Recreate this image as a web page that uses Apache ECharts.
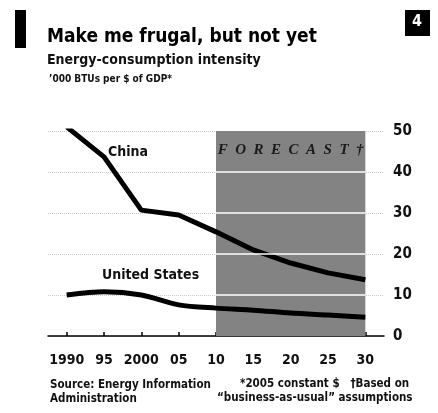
<!DOCTYPE html>
<html><head><meta charset="utf-8">
<script src="https://cdn.jsdelivr.net/npm/echarts@6/dist/echarts.min.js"></script>
<style>html,body{margin:0;padding:0;background:#fff}#c{width:438px;height:413px}</style>
</head><body><div id="c"></div>
<script>
var years = [1990, 1995, 2000, 2005, 2010, 2015, 2020, 2025, 2030];
var china = [51, 43.7, 30.7, 29.5, 25.4, 21, 17.8, 15.4, 13.7];
var unitedStates = [10, 10.8, 10, 7.6, 6.8, 6.3, 5.6, 5.1, 4.6];
var yTicks = [0, 10, 20, 30, 40, 50];
var xLabels = {1990:'1990',1995:'95',2000:'2000',2005:'05',2010:'10',2015:'15',2020:'20',2025:'25',2030:'30'};
var forecastStart = 2010, forecastEnd = 2030;

var F = "'Liberation Sans Narrow','DejaVu Sans Condensed',sans-serif";
var chart = echarts.init(document.getElementById('c'));
function pairs(v){ return years.map(function(y,i){return [y, v[i]];}); }
var gridLines = yTicks.filter(function(t){return t>0 && t<50;}).map(function(t){
  return [{coord:[forecastStart,t]},{coord:[forecastEnd,t]}];
});
chart.setOption({
  backgroundColor:'#fff',
  animation:false,
  grid:{left:48, right:54, top:131, bottom:77},
  xAxis:{type:'value', min:1987.5, max:2032.5,
    axisLine:{show:true, lineStyle:{color:'#000', width:1.5}},
    axisTick:{show:true, inside:true, length:4, customValues:years, lineStyle:{color:'#000', width:1.5}},
    axisLabel:{customValues:years, formatter:function(v){return xLabels[v]||'';}, color:'#111', fontFamily:F, fontWeight:'bold', fontSize:14, margin:17},
    splitLine:{show:false}},
  yAxis:{type:'value', position:'right', min:0, max:50, interval:10,
    axisLine:{show:false}, axisTick:{show:false},
    axisLabel:{color:'#111', fontFamily:F, fontWeight:'bold', fontSize:15, margin:9, verticalAlign:'middle'},
    splitLine:{show:true, lineStyle:{color:'#c8c8c8', type:'dotted', width:1}}},
  graphic:[
    {type:'rect', shape:{x:15,y:10,width:11,height:38}, style:{fill:'#000'}},
    {type:'rect', shape:{x:405,y:10,width:25,height:26}, style:{fill:'#000'}},
    {type:'text', left:412, top:14, style:{text:'4', fill:'#fff', font:'bold 16px '+F}},
    {type:'text', left:47, top:28, style:{text:'Make me frugal, but not yet', fill:'#000', font:'bold 19px '+F}},
    {type:'text', left:47, top:53, style:{text:'Energy-consumption intensity', fill:'#111', font:'bold 14px '+F}},
    {type:'text', left:49, top:74, style:{text:"’000 BTUs per $ of GDP*", fill:'#111', font:'bold 10px '+F}},
    {type:'text', left:108, top:145, style:{text:'China', fill:'#111', font:'bold 14px '+F}},
    {type:'text', left:102, top:268, style:{text:'United States', fill:'#111', font:'bold 14px '+F}},
    {type:'text', left:50, top:378, style:{text:'Source: Energy Information\nAdministration', fill:'#111', font:'bold 11.5px '+F, lineHeight:14}},
    {type:'text', left:240, top:378, style:{text:'*2005 constant $   †Based on', fill:'#111', font:'bold 11.5px '+F}},
    {type:'text', left:217, top:392, style:{text:'“business-as-usual” assumptions', fill:'#111', font:'bold 11.5px '+F}}
  ],
  series:[
    {type:'line', data:[], z:1,
      markArea:{silent:true, itemStyle:{color:'#838383'},
        label:{show:true, position:'insideTop', distance:12, formatter:'F  O  R  E  C  A  S  T  †', color:'#1a1a1a', fontFamily:'Liberation Serif,serif', fontStyle:'italic', fontWeight:'bold', fontSize:15},
        data:[[{xAxis:forecastStart, yAxis:0},{xAxis:forecastEnd, yAxis:50}]]},
      markLine:{silent:true, symbol:'none', label:{show:false}, lineStyle:{color:'#fff', type:'solid', width:1.5}, data:gridLines}},
    {name:'China', type:'line', data:pairs(china), symbol:'none', z:3,
      lineStyle:{color:'#000', width:5}},
    {name:'United States', type:'line', data:pairs(unitedStates), symbol:'none', smooth:0.3, z:3,
      lineStyle:{color:'#000', width:5}}
  ]
});
</script></body></html>
